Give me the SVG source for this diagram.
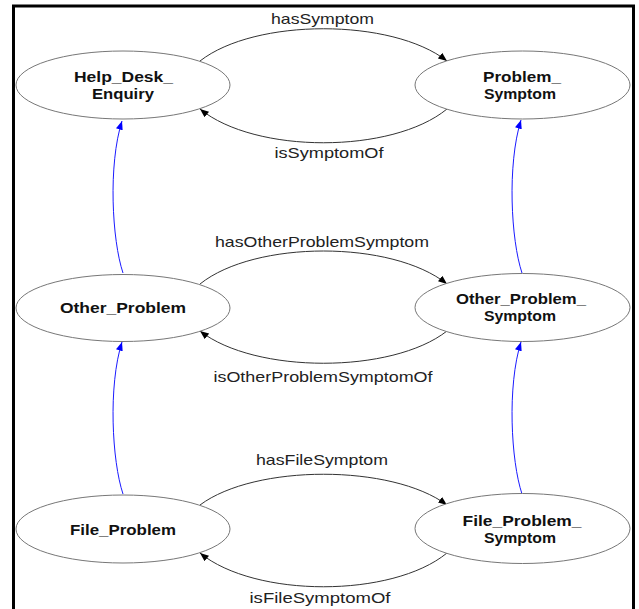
<svg xmlns="http://www.w3.org/2000/svg" width="639" height="609" viewBox="0 0 639 609">
<style>
.node ellipse{fill:#fff;stroke:#777;stroke-width:1}
.node text{font-family:"Liberation Sans",Arial,sans-serif;font-weight:bold;font-size:14.5px;fill:#111;text-anchor:middle}
.rel{fill:none;stroke:#333;stroke-width:1}
.sub{fill:none;stroke:#1a1aff;stroke-width:1}
.lbl{font-family:"Liberation Sans",Arial,sans-serif;font-size:15px;fill:#222;text-anchor:middle}
</style>
<defs>
<marker id="ah" viewBox="0 0 10 8" refX="10" refY="4" markerWidth="9" markerHeight="7" orient="auto" markerUnits="userSpaceOnUse"><path d="M0,0 L10,4 L0,8 z" fill="#000"/></marker>
<marker id="ahb" viewBox="0 0 10 8" refX="10" refY="4" markerWidth="9" markerHeight="7" orient="auto" markerUnits="userSpaceOnUse"><path d="M0,0 L10,4 L0,8 z" fill="#0000ff"/></marker>
</defs>
<rect x="0" y="0" width="639" height="609" fill="#fff"/>
<rect x="13.5" y="6" width="620" height="660" fill="none" stroke="#000" stroke-width="3"/>

<g id="connectors">
<path class="sub" d="M123,273 C112,240 108,165 122,121" marker-end="url(#ahb)"/>
<path class="sub" d="M123,494 C112,461 108,386 122,342" marker-end="url(#ahb)"/>
<path class="sub" d="M522,273 C511,240 507,165 521,120" marker-end="url(#ahb)"/>
<path class="sub" d="M522,494 C511,461 507,386 521,342" marker-end="url(#ahb)"/>
<path class="rel" d="M200,61 C255,18 392,18 447,61" marker-end="url(#ah)"/>
<path class="rel" d="M447,109 C392,154 255,154 200,109" marker-end="url(#ah)"/>
<path class="rel" d="M200,284 C255,240 392,240 447,284" marker-end="url(#ah)"/>
<path class="rel" d="M447,331 C392,374 255,374 200,331" marker-end="url(#ah)"/>
<path class="rel" d="M200,505 C255,464 392,464 447,505" marker-end="url(#ah)"/>
<path class="rel" d="M447,553 C392,598 255,598 200,553" marker-end="url(#ah)"/>
<text class="lbl" x="322.5" y="24" textLength="103" lengthAdjust="spacingAndGlyphs">hasSymptom</text>
<text class="lbl" x="329" y="158" textLength="109" lengthAdjust="spacingAndGlyphs">isSymptomOf</text>
<text class="lbl" x="322" y="247" textLength="214" lengthAdjust="spacingAndGlyphs">hasOtherProblemSymptom</text>
<text class="lbl" x="323" y="382" textLength="219" lengthAdjust="spacingAndGlyphs">isOtherProblemSymptomOf</text>
<text class="lbl" x="322" y="465" textLength="132" lengthAdjust="spacingAndGlyphs">hasFileSymptom</text>
<text class="lbl" x="320" y="603" textLength="141" lengthAdjust="spacingAndGlyphs">isFileSymptomOf</text>
</g>

<g id="Help_Desk_Enquiry" class="node">
<ellipse cx="123" cy="85" rx="107" ry="34"/>
<text x="123.5" y="82" textLength="99" lengthAdjust="spacingAndGlyphs">Help_Desk_</text>
<text x="123" y="99" textLength="62" lengthAdjust="spacingAndGlyphs">Enquiry</text>
</g>
<g id="Problem_Symptom" class="node">
<ellipse cx="522.5" cy="85" rx="107.5" ry="34"/>
<text x="522" y="82" textLength="78" lengthAdjust="spacingAndGlyphs">Problem_</text>
<text x="520" y="99" textLength="72" lengthAdjust="spacingAndGlyphs">Symptom</text>
</g>
<g id="Other_Problem" class="node">
<ellipse cx="123" cy="308" rx="107" ry="33.5"/>
<text x="123" y="313" textLength="126" lengthAdjust="spacingAndGlyphs">Other_Problem</text>
</g>
<g id="Other_Problem_Symptom" class="node">
<ellipse cx="522.5" cy="307.5" rx="107.5" ry="34"/>
<text x="521" y="304" textLength="130" lengthAdjust="spacingAndGlyphs">Other_Problem_</text>
<text x="520" y="321" textLength="72" lengthAdjust="spacingAndGlyphs">Symptom</text>
</g>
<g id="File_Problem" class="node">
<ellipse cx="123" cy="529" rx="107" ry="34"/>
<text x="123" y="535" textLength="106" lengthAdjust="spacingAndGlyphs">File_Problem</text>
</g>
<g id="File_Problem_Symptom" class="node">
<ellipse cx="522.5" cy="528.5" rx="107.5" ry="35"/>
<text x="522" y="526" textLength="119" lengthAdjust="spacingAndGlyphs">File_Problem_</text>
<text x="520" y="543" textLength="72" lengthAdjust="spacingAndGlyphs">Symptom</text>
</g>
</svg>
